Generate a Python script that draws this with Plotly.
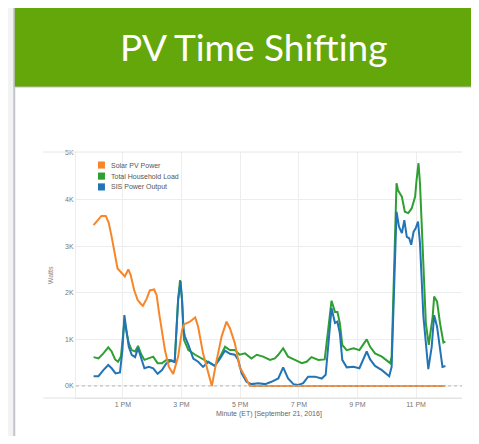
import plotly.graph_objects as go
import pandas as pd

# Series (time "HH:MM", watts)
solar_times = ["12:00", "12:16", "12:25", "12:31", "12:37", "12:44", "12:49", "12:58", "13:04",
               "13:11", "13:16", "13:23", "13:30", "13:37", "13:41", "13:49", "13:55", "14:04",
               "14:09", "14:14", "14:20", "14:26", "14:34", "14:43", "14:53", "15:01", "15:05",
               "15:17", "15:28", "15:34", "15:44", "15:55", "16:02", "16:12", "16:22", "16:32",
               "16:39", "16:49", "16:59", "17:10", "17:20", "24:00"]
solar_watts = [3450, 3650, 3650, 3500, 3200, 2810, 2520, 2420, 2350,
               2500, 2380, 2060, 1850, 1760, 1720, 1880, 2050, 2070,
               1950, 1570, 1130, 770, 410, 260, 630, 1200, 1320,
               1380, 1470, 1270, 700, 270, 0, 560, 1060, 1380,
               1240, 920, 410, 200, 0, 0]

load_times = ["12:00", "12:10", "12:20", "12:30", "12:37", "12:44", "12:50", "12:56", "13:03",
              "13:07", "13:12", "13:18", "13:25", "13:31", "13:37", "13:44", "13:53", "14:02",
              "14:11", "14:20", "14:29", "14:38", "14:46", "14:53", "14:57", "15:01", "15:05",
              "15:14", "15:28", "15:41", "15:55", "16:08", "16:19", "16:29", "16:39", "16:49",
              "16:59", "17:10", "17:23", "17:34", "17:47", "18:01", "18:11", "18:18", "18:28",
              "18:38", "18:52", "19:06", "19:16", "19:26", "19:40", "19:53", "20:00", "20:07",
              "20:14", "20:19", "20:24", "20:29", "20:38", "20:52", "21:04", "21:19", "21:26",
              "21:36", "21:50", "22:00", "22:07", "22:10", "22:16", "22:20", "22:23", "22:31",
              "22:37", "22:44", "22:51", "22:58", "23:01", "23:05", "23:08", "23:15", "23:20",
              "23:26", "23:34", "23:37", "23:43", "23:49", "23:56", "24:00"]
load_watts = [620, 590, 700, 830, 740, 570, 520, 630, 1380,
              1170, 920, 770, 740, 860, 690, 560, 590, 630,
              490, 490, 560, 560, 520, 1850, 2270, 1850, 990,
              770, 670, 590, 520, 430, 630, 840, 770, 770,
              670, 700, 590, 670, 630, 560, 590, 670, 810,
              630, 560, 490, 520, 620, 560, 570, 1200, 1830,
              1590, 1590, 1350, 880, 770, 810, 770, 1000, 840,
              700, 630, 540, 490, 630, 2920, 4350, 4200, 4060,
              3740, 3710, 3810, 4060, 4420, 4780, 4350, 2560, 1350,
              880, 1490, 1920, 1810, 1350, 930, 950]

sis_times = ["12:00", "12:10", "12:20", "12:30", "12:37", "12:45", "12:54", "12:59", "13:03",
             "13:07", "13:12", "13:18", "13:25", "13:31", "13:37", "13:44", "13:53", "14:02",
             "14:11", "14:20", "14:29", "14:38", "14:46", "14:53", "14:58", "15:01", "15:04",
             "15:07", "15:14", "15:24", "15:34", "15:44", "15:55", "16:08", "16:19", "16:29",
             "16:39", "16:49", "16:56", "17:03", "17:13", "17:23", "17:37", "17:51", "18:04",
             "18:18", "18:28", "18:38", "18:49", "18:59", "19:09", "19:19", "19:33", "19:47",
             "19:55", "20:00", "20:07", "20:14", "20:19", "20:24", "20:29", "20:38", "20:52",
             "21:04", "21:19", "21:26", "21:36", "21:50", "22:00", "22:05", "22:10", "22:16",
             "22:20", "22:25", "22:31", "22:36", "22:41", "22:46", "22:50", "22:55", "22:59",
             "23:04", "23:08", "23:15", "23:22", "23:25", "23:32", "23:37", "23:43", "23:49",
             "23:54", "24:00"]
sis_watts = [210, 210, 340, 450, 380, 270, 290, 770, 1520,
             1240, 840, 670, 620, 810, 590, 380, 410, 380,
             260, 340, 490, 540, 510, 1850, 2250, 1850, 1200,
             1060, 880, 590, 520, 410, 520, 430, 590, 760,
             690, 670, 560, 270, 90, 40, 60, 40, 90,
             160, 400, 160, 40, 20, 60, 200, 200, 160,
             240, 840, 1670, 1350, 1380, 1130, 560, 400, 410,
             380, 740, 570, 430, 340, 260, 210, 410, 2200,
             3740, 3420, 3280, 3560, 3200, 3170, 3030, 3310, 3380,
             3530, 3060, 1490, 630, 360, 840, 1520, 1270, 770,
             410, 430]

series_names = ["Solar PV Power", "Total Household Load", "SIS Power Output"]
series_colors = ["#f7862a", "#2e9f31", "#2274b5"]

x_tick_vals = ["13:00", "15:00", "17:00", "19:00", "21:00", "23:00"]
x_tick_text = ["1 PM", "3 PM", "5 PM", "7 PM", "9 PM", "11 PM"]
y_tick_vals = [0, 1000, 2000, 3000, 4000, 5000]
y_tick_text = ["0K", "1K", "2K", "3K", "4K", "5K"]


def stamp(hm):
    h, m = map(int, hm.split(":"))
    return pd.Timestamp("2016-09-21") + pd.Timedelta(hours=h, minutes=m)


fig = go.Figure()

# draw load first, then SIS, solar on top
for times, watts, idx in [(load_times, load_watts, 1), (sis_times, sis_watts, 2),
                          (solar_times, solar_watts, 0)]:
    fig.add_trace(go.Scatter(
        x=[stamp(t) for t in times],
        y=watts,
        mode="lines",
        line=dict(color=series_colors[idx], width=2),
        name=series_names[idx],
        showlegend=False,
    ))

grid = "#ededed"
tick_font = dict(family="Liberation Sans", size=7, color="#777777")

fig.update_xaxes(
    type="date",
    range=[stamp("11:24"), stamp("24:34")],
    tickvals=[stamp(t) for t in x_tick_vals],
    ticktext=x_tick_text,
    showgrid=True, gridcolor=grid, gridwidth=1,
    zeroline=False, showline=True, linecolor="#e2e2e2", ticks="",
    tickfont=tick_font,
)
fig.update_yaxes(
    range=[-258, 5021],
    tickvals=y_tick_vals,
    ticktext=y_tick_text,
    showgrid=True, gridcolor=grid, gridwidth=1,
    zeroline=False, showline=True, linecolor=grid, ticks="",
    tickfont=tick_font,
)

shapes = [
    # slide panel
    dict(type="rect", xref="paper", yref="paper", x0=-0.160, x1=1.10, y0=-0.25, y1=1.602,
         fillcolor="white", line=dict(color="#c4c4cc", width=2), layer="below"),
    # green header bar
    dict(type="rect", xref="paper", yref="paper", x0=-0.160, x1=1.10, y0=1.264, y1=1.602,
         fillcolor="#64a70b", line=dict(color="#c4c4cc", width=1), layer="below"),
    # dotted zero line
    dict(type="line", xref="paper", yref="y", x0=0, x1=1, y0=0, y1=0,
         line=dict(color="#b5b5b5", width=1, dash="dot")),
    # chart frame top / bottom lines reaching under the y labels
    dict(type="line", xref="paper", yref="paper", x0=-0.085, x1=1, y0=1, y1=1,
         line=dict(color="#e6e6e6", width=1)),
    dict(type="line", xref="paper", yref="paper", x0=-0.085, x1=1, y0=0, y1=0,
         line=dict(color="#e2e2e2", width=1)),
]

annotations = [
    dict(text="PV Time Shifting", xref="paper", yref="paper", x=0.461, y=1.43,
         xanchor="center", yanchor="middle", showarrow=False,
         font=dict(family="Lato", size=37, color="white")),
    dict(text="Watts", xref="paper", yref="paper", x=-0.067, y=0.5, textangle=-90,
         xanchor="center", yanchor="middle", showarrow=False,
         font=dict(family="Liberation Sans", size=7, color="#888888")),
    dict(text="Minute (ET) [September 21, 2016]", xref="paper", yref="paper", x=0.5, y=-0.065,
         xanchor="center", yanchor="middle", showarrow=False,
         font=dict(family="Liberation Sans", size=7, color="#666666")),
]

# hand-drawn legend with compact rows
legend_rows = [0.947, 0.902, 0.858]
for name, color, yc in zip(series_names, series_colors, legend_rows):
    shapes.append(dict(type="rect", xref="paper", yref="paper", x0=0.057, x1=0.075,
                       y0=yc - 0.0145, y1=yc + 0.0145, fillcolor=color, line=dict(width=0)))
    annotations.append(dict(text=name, xref="paper", yref="paper", x=0.0855, y=yc,
                            xanchor="left", yanchor="middle", showarrow=False,
                            font=dict(family="Liberation Sans", size=7, color="#555555")))

# the page body adds an 8px margin, so the figure is sized to fit inside it
fig.update_layout(
    width=463, height=428,
    margin=dict(l=68, r=9, t=144, b=38),
    paper_bgcolor="#f3f3f3",
    plot_bgcolor="white",
    shapes=shapes,
    annotations=annotations,
    showlegend=False,
)

fig.write_html("out.html")
